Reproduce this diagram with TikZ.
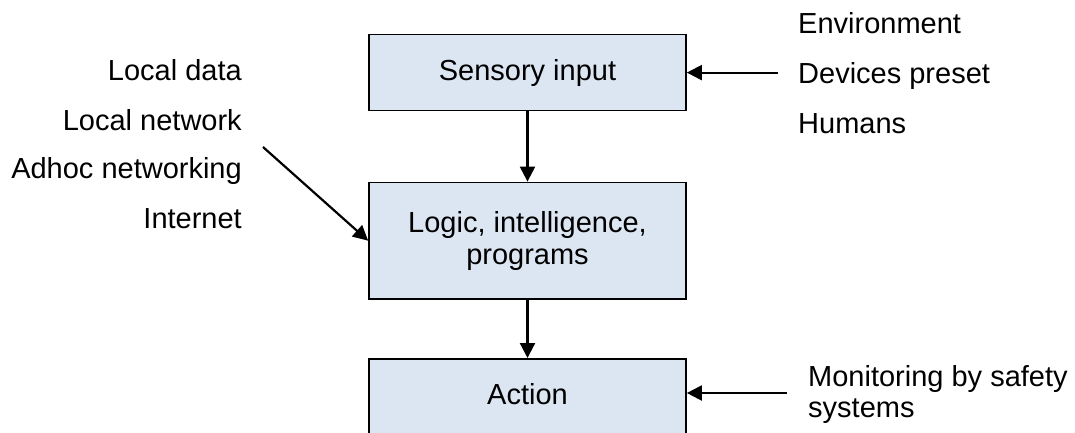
\documentclass[tikz,border=0pt]{standalone}
\usepackage{fontspec}
\setmainfont{Liberation Sans}
\usetikzlibrary{arrows.meta}
\definecolor{boxfill}{HTML}{DCE6F2}
\begin{document}
\begin{tikzpicture}[x=1pt,y=-1pt,
  every node/.style={font=\fontsize{29}{32}\selectfont, inner sep=0pt},
  box/.style={draw=black, line width=1.7pt, fill=boxfill, minimum width=317pt, align=center},
  conn/.style={line width=2.2pt, -{Triangle[length=15pt,width=15pt]}},
  lab/.style={anchor=base east},
  rlab/.style={anchor=base west}]
\useasboundingbox (0,0) rectangle (1075,432);
\clip (0,0) rectangle (1075,432);
% boxes
\node[box, minimum height=76pt] (s1) at (527.5,72.6) {Sensory input};
\node[box, minimum height=116.5pt] (s2) at (527.5,240.7) {Logic, intelligence,\\programs};
\node[box, minimum height=100pt, anchor=north] (s3) at (527.5,358) {};
\node[anchor=base] (s3t) at (527.5,404) {Action};
% vertical connectors
\draw[conn] (s1.south) -- (s2.north);
\draw[conn] (s2.south) -- (s3.north);
% left labels
\node[lab] (l1) at (242,80) {Local data};
\node[lab] (l2) at (242,130) {Local network};
\node[lab] (l3) at (242,178) {Adhoc networking};
\node[lab] (l4) at (242,228) {Internet};
\coordinate (dtail) at (263,147);
\draw[conn] (dtail) -- (s2.west);
% right labels
\node[rlab] (r1) at (798,33) {Environment};
\node[rlab] (r2) at (798,83) {Devices preset};
\node[rlab] (r3) at (798,133) {Humans};
\coordinate (rtail) at (778,72.6);
\draw[conn] (rtail) -- (s1.east);
% monitoring
\node[rlab] (m1) at (808,386) {Monitoring by safety};
\node[rlab] (m2) at (808,417) {systems};
\coordinate (mtail) at (787,393);
\draw[conn] (mtail) -- (mtail -| s3.east);
\end{tikzpicture}
\end{document}
